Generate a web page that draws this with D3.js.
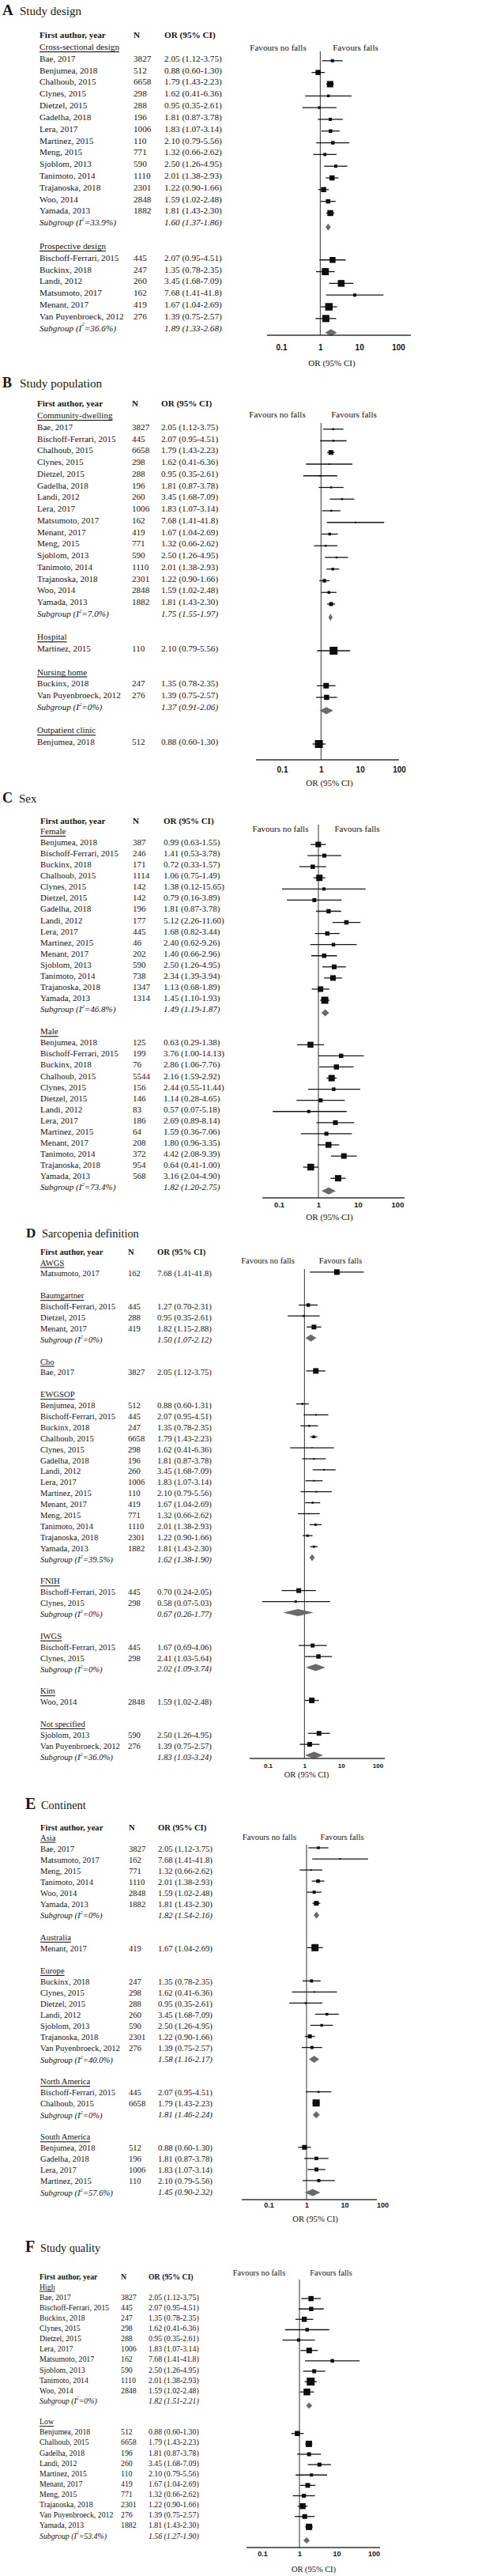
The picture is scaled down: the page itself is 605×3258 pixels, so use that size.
<!DOCTYPE html>
<html><head><meta charset="utf-8">
<script src="https://cdn.jsdelivr.net/npm/d3@7"></script>
<style>html,body{margin:0;padding:0;background:#fff;} svg{display:block;}</style>
</head><body><svg id="chart" width="605" height="3258"></svg>
<script>
// ---------------- DATA ----------------
const tickValues = [0.1, 1, 10, 100];
const tickLabels = ["0.1", "1", "10", "100"];
// rows: [author, N, OR, lower, upper, relative weight]
// Subgroup: [I2 label, OR, lower, upper]

// Panel A – Study design
const A_cross = [
  ["Bae, 2017", 3827, 2.05, 1.12, 3.75, 16],
  ["Benjumea, 2018", 512, 0.88, 0.60, 1.30, 42],
  ["Chalhoub, 2015", 6658, 1.79, 1.43, 2.23, 64],
  ["Clynes, 2015", 298, 1.62, 0.41, 6.36, 12],
  ["Dietzel, 2015", 288, 0.95, 0.35, 2.61, 12],
  ["Gadelha, 2018", 196, 1.81, 0.87, 3.78, 16],
  ["Lera, 2017", 1006, 1.83, 1.07, 3.14, 20],
  ["Martinez, 2015", 110, 2.10, 0.79, 5.56, 20],
  ["Meng, 2015", 771, 1.32, 0.66, 2.62, 16],
  ["Sjoblom, 2013", 590, 2.50, 1.26, 4.95, 16],
  ["Tanimoto, 2014", 1110, 2.01, 1.38, 2.93, 42],
  ["Trajanoska, 2018", 2301, 1.22, 0.90, 1.66, 42],
  ["Woo, 2014", 2848, 1.59, 1.02, 2.48, 30],
  ["Yamada, 2013", 1882, 1.81, 1.43, 2.30, 56]
];
const A_cross_sub = ["33.9%", 1.60, 1.37, 1.86];
const A_prosp = [
  ["Bischoff-Ferrari, 2015", 445, 2.07, 0.95, 4.51, 56],
  ["Buckinx, 2018", 247, 1.35, 0.78, 2.35, 81],
  ["Landi, 2012", 260, 3.45, 1.68, 7.09, 72],
  ["Matsumoto, 2017", 162, 7.68, 1.41, 41.8, 16],
  ["Menant, 2017", 419, 1.67, 1.04, 2.69, 90],
  ["Van Puyenbroeck, 2012", 276, 1.39, 0.75, 2.57, 81]
];
const A_prosp_sub = ["36.6%", 1.89, 1.33, 2.68];

// Panel B – Study population
const B_community = [
  ["Bae, 2017", 3827, 2.05, 1.12, 3.75, 6],
  ["Bischoff-Ferrari, 2015", 445, 2.07, 0.95, 4.51, 6],
  ["Chalhoub, 2015", 6658, 1.79, 1.43, 2.23, 36],
  ["Clynes, 2015", 298, 1.62, 0.41, 6.36, 4],
  ["Dietzel, 2015", 288, 0.95, 0.35, 2.61, 4],
  ["Gadelha, 2018", 196, 1.81, 0.87, 3.78, 6],
  ["Landi, 2012", 260, 3.45, 1.68, 7.09, 6],
  ["Lera, 2017", 1006, 1.83, 1.07, 3.14, 6],
  ["Matsumoto, 2017", 162, 7.68, 1.41, 41.8, 4],
  ["Menant, 2017", 419, 1.67, 1.04, 2.69, 12],
  ["Meng, 2015", 771, 1.32, 0.66, 2.62, 6],
  ["Sjoblom, 2013", 590, 2.50, 1.26, 4.95, 6],
  ["Tanimoto, 2014", 1110, 2.01, 1.38, 2.93, 12],
  ["Trajanoska, 2018", 2301, 1.22, 0.90, 1.66, 20],
  ["Woo, 2014", 2848, 1.59, 1.02, 2.48, 12],
  ["Yamada, 2013", 1882, 1.81, 1.43, 2.30, 25]
];
const B_community_sub = ["7.0%", 1.75, 1.55, 1.97];
const B_hospital = [["Martinez, 2015", 110, 2.10, 0.79, 5.56, 100]];
const B_nursing = [
  ["Buckinx, 2018", 247, 1.35, 0.78, 2.35, 49],
  ["Van Puyenbroeck, 2012", 276, 1.39, 0.75, 2.57, 42]
];
const B_nursing_sub = ["0%", 1.37, 0.91, 2.06];
const B_outpatient = [["Benjumea, 2018", 512, 0.88, 0.60, 1.30, 100]];

// Panel C – Sex
const C_female = [
  ["Benjumea, 2018", 387, 0.99, 0.63, 1.55, 49],
  ["Bischoff-Ferrari, 2015", 246, 1.41, 0.53, 3.78, 25],
  ["Buckinx, 2018", 171, 0.72, 0.33, 1.57, 30],
  ["Chalhoub, 2015", 1114, 1.06, 0.75, 1.49, 64],
  ["Clynes, 2015", 142, 1.38, 0.12, 15.65, 16],
  ["Dietzel, 2015", 142, 0.79, 0.16, 3.89, 25],
  ["Gadelha, 2018", 196, 1.81, 0.87, 3.78, 30],
  ["Landi, 2012", 177, 5.12, 2.26, 11.60, 30],
  ["Lera, 2017", 445, 1.68, 0.82, 3.44, 30],
  ["Martinez, 2015", 46, 2.40, 0.62, 9.26, 20],
  ["Menant, 2017", 202, 1.40, 0.66, 2.96, 30],
  ["Sjoblom, 2013", 590, 2.50, 1.26, 4.95, 36],
  ["Tanimoto, 2014", 738, 2.34, 1.39, 3.94, 49],
  ["Trajanoska, 2018", 1347, 1.13, 0.68, 1.89, 49],
  ["Yamada, 2013", 1314, 1.45, 1.10, 1.93, 81]
];
const C_female_sub = ["46.8%", 1.49, 1.19, 1.87];
const C_male = [
  ["Benjumea, 2018", 125, 0.63, 0.29, 1.38, 56],
  ["Bischoff-Ferrari, 2015", 199, 3.76, 1.00, 14.13, 30],
  ["Buckinx, 2018", 76, 2.86, 1.06, 7.76, 42],
  ["Chalhoub, 2015", 5544, 2.16, 1.59, 2.92, 64],
  ["Clynes, 2015", 156, 2.44, 0.55, 11.44, 20],
  ["Dietzel, 2015", 146, 1.14, 0.28, 4.65, 25],
  ["Landi, 2012", 83, 0.57, 0.07, 5.18, 16],
  ["Lera, 2017", 186, 2.69, 0.89, 8.14, 36],
  ["Martinez, 2015", 64, 1.59, 0.36, 7.06, 25],
  ["Menant, 2017", 208, 1.80, 0.96, 3.35, 56],
  ["Tanimoto, 2014", 372, 4.42, 2.08, 9.39, 49],
  ["Trajanoska, 2018", 954, 0.64, 0.41, 1.00, 72],
  ["Yamada, 2013", 568, 3.16, 2.04, 4.90, 64]
];
const C_male_sub = ["73.4%", 1.82, 1.20, 2.75];

// Panel D – Sarcopenia definition
const D_awgs = [["Matsumoto, 2017", 162, 7.68, 1.41, 41.8, 49]];
const D_baum = [
  ["Bischoff-Ferrari, 2015", 445, 1.27, 0.70, 2.31, 20],
  ["Dietzel, 2015", 288, 0.95, 0.35, 2.61, 6],
  ["Menant, 2017", 419, 1.82, 1.15, 2.88, 36]
];
const D_baum_sub = ["0%", 1.50, 1.07, 2.12];
const D_cho = [["Bae, 2017", 3827, 2.05, 1.12, 3.75, 49]];
const D_ewgsop = [
  ["Benjumea, 2018", 512, 0.88, 0.60, 1.31, 6],
  ["Bischoff-Ferrari, 2015", 445, 2.07, 0.95, 4.51, 4],
  ["Buckinx, 2018", 247, 1.35, 0.78, 2.35, 6],
  ["Chalhoub, 2015", 6658, 1.79, 1.43, 2.23, 12],
  ["Clynes, 2015", 298, 1.62, 0.41, 6.36, 2],
  ["Gadelha, 2018", 196, 1.81, 0.87, 3.78, 4],
  ["Landi, 2012", 260, 3.45, 1.68, 7.09, 4],
  ["Lera, 2017", 1006, 1.83, 1.07, 3.14, 4],
  ["Martinez, 2015", 110, 2.10, 0.79, 5.56, 4],
  ["Menant, 2017", 419, 1.67, 1.04, 2.69, 6],
  ["Meng, 2015", 771, 1.32, 0.66, 2.62, 2],
  ["Tanimoto, 2014", 1110, 2.01, 1.38, 2.93, 9],
  ["Trajanoska, 2018", 2301, 1.22, 0.90, 1.66, 9],
  ["Yamada, 2013", 1882, 1.81, 1.43, 2.30, 9]
];
const D_ewgsop_sub = ["39.5%", 1.62, 1.38, 1.90];
const D_fnih = [
  ["Bischoff-Ferrari, 2015", 445, 0.70, 0.24, 2.05, 36],
  ["Clynes, 2015", 298, 0.58, 0.07, 5.03, 9]
];
const D_fnih_sub = ["0%", 0.67, 0.26, 1.77];
const D_iwgs = [
  ["Bischoff-Ferrari, 2015", 445, 1.67, 0.69, 4.06, 25],
  ["Clynes, 2015", 298, 2.41, 1.03, 5.64, 30]
];
const D_iwgs_sub = ["0%", 2.02, 1.09, 3.74];
const D_kim = [["Woo, 2014", 2848, 1.59, 1.02, 2.48, 49]];
const D_notspec = [
  ["Sjoblom, 2013", 590, 2.50, 1.26, 4.95, 36],
  ["Van Puyenbroeck, 2012", 276, 1.39, 0.75, 2.57, 36]
];
const D_notspec_sub = ["36.0%", 1.83, 1.03, 3.24];

// Panel E – Continent
const E_asia = [
  ["Bae, 2017", 3827, 2.05, 1.12, 3.75, 12],
  ["Matsumoto, 2017", 162, 7.68, 1.41, 41.8, 4],
  ["Meng, 2015", 771, 1.32, 0.66, 2.62, 4],
  ["Tanimoto, 2014", 1110, 2.01, 1.38, 2.93, 20],
  ["Woo, 2014", 2848, 1.59, 1.02, 2.48, 16],
  ["Yamada, 2013", 1882, 1.81, 1.43, 2.30, 36]
];
const E_asia_sub = ["0%", 1.82, 1.54, 2.16];
const E_australia = [["Menant, 2017", 419, 1.67, 1.04, 2.69, 81]];
const E_europe = [
  ["Buckinx, 2018", 247, 1.35, 0.78, 2.35, 16],
  ["Clynes, 2015", 298, 1.62, 0.41, 6.36, 4],
  ["Dietzel, 2015", 288, 0.95, 0.35, 2.61, 6],
  ["Landi, 2012", 260, 3.45, 1.68, 7.09, 12],
  ["Sjoblom, 2013", 590, 2.50, 1.26, 4.95, 12],
  ["Trajanoska, 2018", 2301, 1.22, 0.90, 1.66, 25],
  ["Van Puyenbroeck, 2012", 276, 1.39, 0.75, 2.57, 16]
];
const E_europe_sub = ["40.0%", 1.58, 1.16, 2.17];
const E_northam = [
  ["Bischoff-Ferrari, 2015", 445, 2.07, 0.95, 4.51, 6],
  ["Chalhoub, 2015", 6658, 1.79, 1.43, 2.23, 81]
];
const E_northam_sub = ["0%", 1.81, 1.46, 2.24];
const E_southam = [
  ["Benjumea, 2018", 512, 0.88, 0.60, 1.30, 36],
  ["Gadelha, 2018", 196, 1.81, 0.87, 3.78, 20],
  ["Lera, 2017", 1006, 1.83, 1.07, 3.14, 25],
  ["Martinez, 2015", 110, 2.10, 0.79, 5.56, 16]
];
const E_southam_sub = ["57.6%", 1.45, 0.90, 2.32];

// Panel F – Study quality
const F_high = [
  ["Bae, 2017", 3827, 2.05, 1.12, 3.75, 42],
  ["Bischoff-Ferrari, 2015", 445, 2.07, 0.95, 4.51, 30],
  ["Buckinx, 2018", 247, 1.35, 0.78, 2.35, 42],
  ["Clynes, 2015", 298, 1.62, 0.41, 6.36, 20],
  ["Dietzel, 2015", 288, 0.95, 0.35, 2.61, 16],
  ["Lera, 2017", 1006, 1.83, 1.07, 3.14, 49],
  ["Matsumoto, 2017", 162, 7.68, 1.41, 41.8, 20],
  ["Sjoblom, 2013", 590, 2.50, 1.26, 4.95, 25],
  ["Tanimoto, 2014", 1110, 2.01, 1.38, 2.93, 100],
  ["Woo, 2014", 2848, 1.59, 1.02, 2.48, 72]
];
const F_high_sub = ["0%", 1.82, 1.51, 2.21];
const F_low = [
  ["Benjumea, 2018", 512, 0.88, 0.60, 1.30, 42],
  ["Chalhoub, 2015", 6658, 1.79, 1.43, 2.23, 64],
  ["Gadelha, 2018", 196, 1.81, 0.87, 3.78, 25],
  ["Landi, 2012", 260, 3.45, 1.68, 7.09, 25],
  ["Martinez, 2015", 110, 2.10, 0.79, 5.56, 16],
  ["Menant, 2017", 419, 1.67, 1.04, 2.69, 36],
  ["Meng, 2015", 771, 1.32, 0.66, 2.62, 25],
  ["Trajanoska, 2018", 2301, 1.22, 0.90, 1.66, 56],
  ["Van Puyenbroeck, 2012", 276, 1.39, 0.75, 2.57, 36],
  ["Yamada, 2013", 1882, 1.81, 1.43, 2.30, 64]
];
const F_low_sub = ["53.4%", 1.56, 1.27, 1.90];

// ---------------- PANEL TABLES ----------------
const panelGroups = {
  A: [{label: "Cross-sectional design", rows: A_cross, sub: A_cross_sub},
      {label: "Prospective design", rows: A_prosp, sub: A_prosp_sub}],
  B: [{label: "Community-dwelling", rows: B_community, sub: B_community_sub},
      {label: "Hospital", rows: B_hospital},
      {label: "Nursing home", rows: B_nursing, sub: B_nursing_sub},
      {label: "Outpatient clinic", rows: B_outpatient}],
  C: [{label: "Female", rows: C_female, sub: C_female_sub},
      {label: "Male", rows: C_male, sub: C_male_sub}],
  D: [{label: "AWGS", rows: D_awgs},
      {label: "Baumgartner", rows: D_baum, sub: D_baum_sub},
      {label: "Cho", rows: D_cho},
      {label: "EWGSOP", rows: D_ewgsop, sub: D_ewgsop_sub},
      {label: "FNIH", rows: D_fnih, sub: D_fnih_sub},
      {label: "IWGS", rows: D_iwgs, sub: D_iwgs_sub},
      {label: "Kim", rows: D_kim},
      {label: "Not specified", rows: D_notspec, sub: D_notspec_sub}],
  E: [{label: "Asia", rows: E_asia, sub: E_asia_sub},
      {label: "Australia", rows: E_australia},
      {label: "Europe", rows: E_europe, sub: E_europe_sub},
      {label: "North America", rows: E_northam, sub: E_northam_sub},
      {label: "South America", rows: E_southam, sub: E_southam_sub}],
  F: [{label: "High", rows: F_high, sub: F_high_sub},
      {label: "Low", rows: F_low, sub: F_low_sub}]
};

// ---------------- LAYOUT ----------------
const layouts = [
  {key:"A", title:"Study design", letterX:3, titleX:25, titleY:19, letterSize:19, titleSize:15,
   headerY:44, row0:59, rowStep:14.82, font:11.2, colName:50, colN:169, colOR:208,
   x01:356, x100:504, axisX0:338, axisX1:520, axisY:424, vTop:65, tickY:439, tickSize:10,
   orLabelY:459, orLabelX:420, orSize:11, favY:60, favL:352, favR:450, favSize:11.1, studyOff:3, diaOff:6, diaH:4.5},
  {key:"B", title:"Study population", letterX:3, titleX:25, titleY:490, letterSize:18, titleSize:15.2,
   headerY:510, row0:525, rowStep:14.75, font:11.1, colName:47, colN:167, colOR:204,
   x01:357, x100:505, axisX0:324, axisX1:505, axisY:961, vTop:535, tickY:973, tickSize:10,
   orLabelY:990, orLabelX:417, orSize:11, favY:524, favL:351, favR:448, favSize:11.1, studyOff:3, diaOff:5, diaH:4.5},
  {key:"C", title:"Sex", letterX:3, titleX:24, titleY:1015, letterSize:18, titleSize:15,
   headerY:1038, row0:1051, rowStep:14.07, font:11, colName:51, colN:168, colOR:207,
   x01:353, x100:503, axisX0:332, axisX1:512, axisY:1515, vTop:1043, tickY:1524, tickSize:9.5,
   orLabelY:1539, orLabelX:417, orSize:11, favY:1048, favL:355, favR:452, favSize:11, studyOff:3, diaOff:5, diaH:4.5},
  {key:"D", title:"Sarcopenia definition", letterX:33, titleX:53, titleY:1565, letterSize:17, titleSize:14.3,
   headerY:1583, row0:1597, rowStep:13.89, font:10.6, colName:51, colN:162, colOR:199,
   x01:339, x100:478, axisX0:316, axisX1:487, axisY:2224, vTop:1605, tickY:2233, tickSize:8,
   orLabelY:2244, orLabelX:388, orSize:10.5, favY:1594, favL:339, favR:431, favSize:10.5, studyOff:-2, diaOff:-2, diaH:4.5},
  {key:"E", title:"Continent", letterX:32, titleX:52, titleY:2288, letterSize:20, titleSize:14.4,
   headerY:2311, row0:2324, rowStep:14.03, font:10.6, colName:51, colN:163, colOR:200,
   x01:340, x100:484, axisX0:306, axisX1:477, axisY:2782, vTop:2333, tickY:2789, tickSize:9,
   orLabelY:2806, orLabelX:399, orSize:10.7, favY:2323, favL:341, favR:433, favSize:10.6, studyOff:-1, diaOff:0, diaH:4.5},
  {key:"F", title:"Study quality", letterX:32, titleX:51, titleY:2848, letterSize:20, titleSize:14.2,
   headerY:2879, row0:2892, rowStep:13.125, font:9.8, colName:50, colN:153, colOR:188,
   x01:332, x100:473, axisX0:312, axisX1:481, axisY:3222, vTop:2883, tickY:3230, tickSize:9,
   orLabelY:3249, orLabelX:397, orSize:10.4, favY:2874, favL:328, favR:419, favSize:10.3, studyOff:2, diaOff:6, diaH:4}
];

// ---------------- DRAW ----------------
const SERIF = "'Liberation Serif', 'Times New Roman', Times, serif";
const SANS = "'Liberation Sans', Arial, Helvetica, sans-serif";
const INK = "#151515";
const DIA = "#6a6a6a";
const fmt = v => v >= 20 ? v.toFixed(1) : v.toFixed(2);
const sizeScale = d3.scaleSqrt().domain([0, 100]).range([0, 10]);
const svg = d3.select("#chart");
svg.append("rect").attr("width", 605).attr("height", 3258).attr("fill", "#fff");

function buildRows(groups) {
  const rows = []; let i = 0;
  groups.forEach((g, gi) => {
    if (gi > 0) i++;
    rows.push({type: "label", i: i++, text: g.label});
    g.rows.forEach(r => rows.push({type: "study", i: i++, name: r[0], n: r[1], or: r[2], lo: r[3], hi: r[4], w: r[5]}));
    if (g.sub) rows.push({type: "sub", i: i++, i2: g.sub[0], or: g.sub[1], lo: g.sub[2], hi: g.sub[3]});
  });
  return rows;
}

layouts.forEach(L => {
  const rows = buildRows(panelGroups[L.key]);
  const g = svg.append("g").attr("class", "panel-" + L.key);
  const x = d3.scaleLog().domain([0.1, 100]).range([L.x01, L.x100]);
  const y = d3.scaleLinear().domain([0, 1]).range([L.row0, L.row0 + L.rowStep]);

  // Title
  g.append("text").attr("x", L.letterX).attr("y", L.titleY)
    .attr("font-family", SERIF).attr("font-weight", "bold").attr("font-size", L.letterSize)
    .attr("fill", INK).text(L.key);
  g.append("text").attr("x", L.titleX).attr("y", L.titleY)
    .attr("font-family", SERIF).attr("font-size", L.titleSize)
    .attr("fill", INK).text(L.title);

  // Header
  const hdr = [["First author, year", L.colName], ["N", L.colN], ["OR (95% CI)", L.colOR]];
  g.selectAll("text.hdr").data(hdr).join("text").attr("class", "hdr")
    .attr("x", d => d[1]).attr("y", L.headerY).attr("dominant-baseline", "central")
    .attr("font-family", SERIF).attr("font-weight", "bold").attr("font-size", L.font)
    .attr("fill", INK).text(d => d[0]);

  const txt = g.append("g").attr("font-family", SERIF).attr("font-size", L.font).attr("fill", INK);

  // Group labels (underlined)
  txt.selectAll("text.lab").data(rows.filter(r => r.type === "label")).join("text").attr("class", "lab")
    .attr("x", L.colName).attr("y", d => y(d.i)).attr("dominant-baseline", "central")
    .attr("text-decoration", "underline").text(d => d.text);

  const studies = rows.filter(r => r.type === "study");
  txt.selectAll("text.nm").data(studies).join("text").attr("class", "nm")
    .attr("x", L.colName).attr("y", d => y(d.i)).attr("dominant-baseline", "central").text(d => d.name);
  txt.selectAll("text.nn").data(studies).join("text").attr("class", "nn")
    .attr("x", L.colN).attr("y", d => y(d.i)).attr("dominant-baseline", "central").text(d => d.n);
  txt.selectAll("text.orv").data(studies).join("text").attr("class", "orv")
    .attr("x", L.colOR).attr("y", d => y(d.i)).attr("dominant-baseline", "central")
    .text(d => `${fmt(d.or)} (${fmt(d.lo)}-${fmt(d.hi)})`);

  const subs = rows.filter(r => r.type === "sub");
  const st = txt.selectAll("text.sg").data(subs).join("text").attr("class", "sg")
    .attr("x", L.colName).attr("y", d => y(d.i)).attr("dominant-baseline", "central")
    .attr("font-style", "italic");
  st.append("tspan").text("Subgroup (I");
  st.append("tspan").attr("font-size", L.font * 0.62).attr("dy", -L.font * 0.38).text("2");
  st.append("tspan").attr("dy", L.font * 0.38).text(d => `=${d.i2})`);
  txt.selectAll("text.sgv").data(subs).join("text").attr("class", "sgv")
    .attr("x", L.colOR).attr("y", d => y(d.i)).attr("dominant-baseline", "central")
    .attr("font-style", "italic")
    .text(d => `${fmt(d.or)} (${fmt(d.lo)}-${fmt(d.hi)})`);

  // Plot
  const p = g.append("g");
  p.append("line").attr("x1", x(1)).attr("x2", x(1)).attr("y1", L.vTop).attr("y2", L.axisY)
    .attr("stroke", "#333").attr("stroke-width", 1);
  p.selectAll("line.ci").data(studies).join("line").attr("class", "ci")
    .attr("x1", d => x(d.lo)).attr("x2", d => x(d.hi))
    .attr("y1", d => y(d.i) + L.studyOff).attr("y2", d => y(d.i) + L.studyOff)
    .attr("stroke", INK).attr("stroke-width", 1.3);
  p.selectAll("rect.sq").data(studies).join("rect").attr("class", "sq")
    .attr("x", d => x(d.or) - sizeScale(d.w) / 2)
    .attr("y", d => y(d.i) + L.studyOff - sizeScale(d.w) / 2)
    .attr("width", d => sizeScale(d.w)).attr("height", d => sizeScale(d.w))
    .attr("fill", "#0d0d0d");
  p.selectAll("polygon.dia").data(subs).join("polygon").attr("class", "dia")
    .attr("points", d => {
      const cy = y(d.i) + L.diaOff;
      return [[x(d.lo), cy], [x(d.or), cy - L.diaH], [x(d.hi), cy], [x(d.or), cy + L.diaH]].map(q => q.join(",")).join(" ");
    })
    .attr("fill", DIA);

  // Axis
  p.append("line").attr("x1", L.axisX0).attr("x2", L.axisX1).attr("y1", L.axisY).attr("y2", L.axisY)
    .attr("stroke", "#333").attr("stroke-width", 1.3);
  const ax = p.append("g").attr("transform", `translate(0,${L.tickY})`)
    .call(d3.axisBottom(x).tickValues(tickValues).tickFormat((d, i) => tickLabels[i]).tickSize(0).tickPadding(0));
  ax.select(".domain").remove();
  ax.selectAll("text").attr("y", 0).attr("dy", "0.35em")
    .attr("font-family", SANS).attr("font-weight", "bold").attr("font-size", L.tickSize).attr("fill", INK);

  p.append("text").attr("x", L.orLabelX).attr("y", L.orLabelY).attr("text-anchor", "middle")
    .attr("dominant-baseline", "central").attr("font-family", SERIF).attr("font-size", L.orSize)
    .attr("fill", INK).text("OR (95% CI)");
  const fav = [["Favours no falls", L.favL], ["Favours falls", L.favR]];
  p.selectAll("text.fav").data(fav).join("text").attr("class", "fav")
    .attr("x", d => d[1]).attr("y", L.favY).attr("text-anchor", "middle").attr("dominant-baseline", "central")
    .attr("font-family", SERIF).attr("font-size", L.favSize).attr("fill", INK).text(d => d[0]);
});
</script></body></html>
